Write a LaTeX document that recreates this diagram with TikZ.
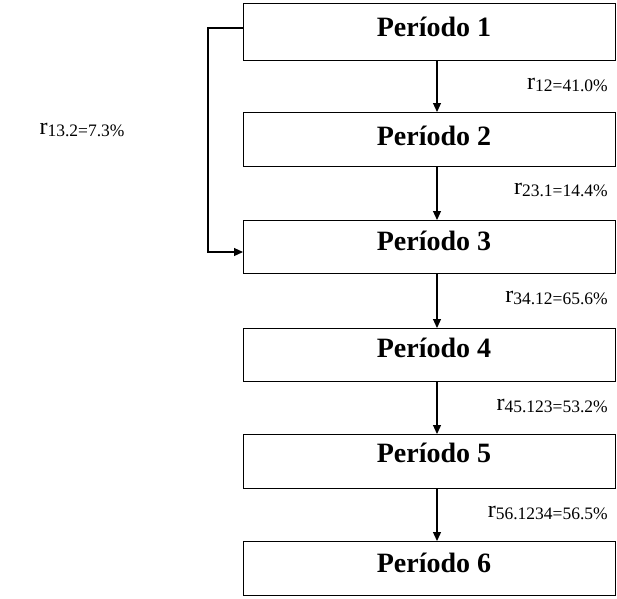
\documentclass[tikz,border=0pt]{standalone}
\usepackage{fontspec}
\setmainfont{Liberation Serif}
\usetikzlibrary{arrows.meta}
\newcommand{\rlab}[2]{{\fontsize{24}{24}\selectfont r}\raisebox{-1.5pt}{\fontsize{17.5}{18}\selectfont #1=#2}}
\begin{document}
\begin{tikzpicture}[x=1pt,y=-1pt,
  pbox/.style={draw,line width=1.3pt,minimum width=372pt,inner sep=0pt,anchor=north west},
  ptext/.style={font=\fontsize{28}{28}\selectfont\bfseries,inner sep=0pt},
  rtext/.style={anchor=east,inner sep=0pt},
  conn/.style={line width=1.2pt,-{Triangle[length=9pt,width=8pt]}}]
\useasboundingbox (0,0) rectangle (617,598);
\node[pbox,minimum height=57pt] (b1) at (243,3) {};
\node[pbox,minimum height=54pt] (b2) at (243,112) {};
\node[pbox,minimum height=53pt] (b3) at (243,220) {};
\node[pbox,minimum height=53pt] (b4) at (243,328) {};
\node[pbox,minimum height=54pt] (b5) at (243,434) {};
\node[pbox,minimum height=54pt] (b6) at (243,541) {};
\node[ptext] (t1) at (434,27) {Período 1};
\node[ptext] (t2) at (434,136) {Período 2};
\node[ptext] (t3) at (434,241) {Período 3};
\node[ptext] (t4) at (434,348) {Período 4};
\node[ptext] (t5) at (434,453) {Período 5};
\node[ptext] (t6) at (434,563) {Período 6};
\coordinate (ax) at (437,0);
\draw[conn] (b1.south -| ax) -- (b2.north -| ax);
\draw[conn] (b2.south -| ax) -- (b3.north -| ax);
\draw[conn] (b3.south -| ax) -- (b4.north -| ax);
\draw[conn] (b4.south -| ax) -- (b5.north -| ax);
\draw[conn] (b5.south -| ax) -- (b6.north -| ax);
\coordinate (fa) at (243,28);
\coordinate (fb) at (243,252);
\draw[conn] (fa) -- (208,28) -- (208,252) -- (fb);
\node[rtext] (l12) at (608,85) {\rlab{12}{41.0\%}};
\node[rtext] (l23) at (608,190) {\rlab{23.1}{14.4\%}};
\node[rtext] (l34) at (608,298) {\rlab{34.12}{65.6\%}};
\node[rtext] (l45) at (608,406) {\rlab{45.123}{53.2\%}};
\node[rtext] (l56) at (608,513) {\rlab{56.1234}{56.5\%}};
\node[inner sep=0pt] (l13) at (82,130) {\rlab{13.2}{7.3\%}};
\end{tikzpicture}
\end{document}
